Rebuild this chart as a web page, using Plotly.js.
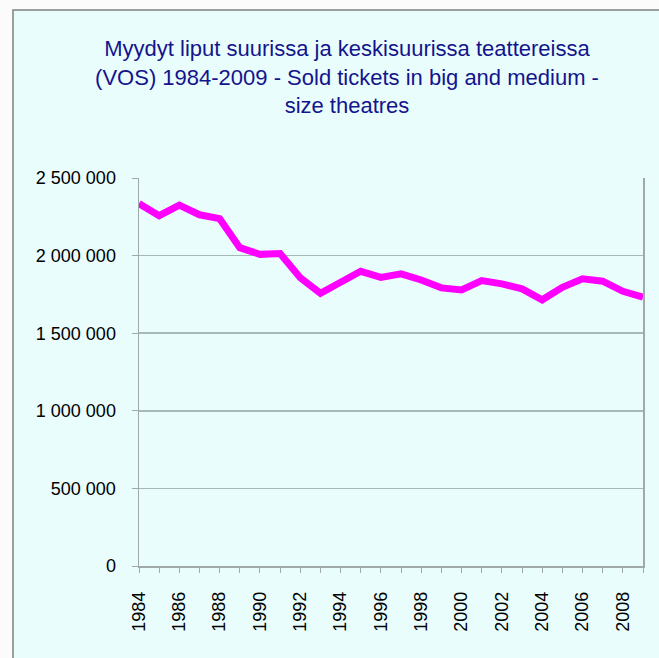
<!DOCTYPE html>
<html>
<head>
<meta charset="utf-8">
<script src="https://cdn.plot.ly/plotly-3.0.1.min.js"></script>
<style>
  html, body { margin: 0; padding: 0; background: #fbfbfb; }
  #chart { width: 659px; height: 658px; }
</style>
</head>
<body>
<div id="chart"></div>
<script>
const years = [1984,1985,1986,1987,1988,1989,1990,1991,1992,1993,1994,1995,1996,1997,1998,1999,2000,2001,2002,2003,2004,2005,2006,2007,2008,2009];
const soldTickets = [2335000,2257000,2325000,2263000,2238000,2051000,2008000,2013000,1858000,1757000,1828000,1899000,1860000,1882000,1843000,1792000,1779000,1839000,1818000,1786000,1715000,1796000,1850000,1835000,1770000,1732000];
const yTickVals = [0,500000,1000000,1500000,2000000,2500000];
const yTickText = ['0','500 000','1 000 000','1 500 000','2 000 000','2 500 000'];
const xTickText = years.map(y => (y % 2 === 0 ? String(y) : ''));
const titleText = 'Myydyt liput suurissa ja keskisuurissa teattereissa<br>(VOS) 1984-2009 - Sold tickets in big and medium -<br>size theatres';

const trace = {
  x: years,
  y: soldTickets,
  type: 'scatter',
  mode: 'lines',
  line: { color: '#ff00ff', width: 7, shape: 'linear' },
  hoverinfo: 'x+y'
};

const layout = {
  width: 659,
  height: 658,
  margin: { l: 139, r: 16, t: 178, b: 92, pad: 0 },
  paper_bgcolor: '#fbfbfb',
  plot_bgcolor: 'rgba(0,0,0,0)',
  showlegend: false,
  font: { family: 'Liberation Sans, Arial, sans-serif', color: '#000000' },
  title: {
    text: titleText,
    font: { family: 'Liberation Sans, Arial, sans-serif', size: 22, color: '#14148c' },
    x: 347 / 659,
    xref: 'container',
    xanchor: 'center',
    y: 1 - 56 / 658,
    yref: 'container',
    yanchor: 'top'
  },
  xaxis: {
    range: [1984, 2009],
    tickmode: 'array',
    tickvals: years,
    ticktext: xTickText,
    tickangle: -90,
    ticks: 'outside',
    ticklen: 5,
    tickcolor: '#a0a8a8',
    tickfont: { size: 18, color: '#000000' },
    ticklabelstandoff: 12,
    showgrid: false,
    showline: true,
    linecolor: '#a0a8a8',
    linewidth: 1.5,
    zeroline: false,
    fixedrange: true
  },
  yaxis: {
    range: [0, 2500000],
    tickmode: 'array',
    tickvals: yTickVals,
    ticktext: yTickText,
    ticks: 'outside',
    ticklen: 6,
    tickcolor: '#a0a8a8',
    tickfont: { size: 18, color: '#000000' },
    ticklabelstandoff: 12,
    showgrid: true,
    gridcolor: '#a8b8b8',
    gridwidth: 1.5,
    showline: true,
    mirror: true,
    linecolor: '#a0a8a8',
    linewidth: 1.5,
    zeroline: false,
    fixedrange: true
  },
  shapes: [{
    type: 'rect',
    xref: 'paper', yref: 'paper',
    x0: (13 - 139) / 504, x1: (680 - 139) / 504,
    y0: (566 - 680) / 388, y1: (566 - 10) / 388,
    fillcolor: '#e9fdfd',
    line: { color: '#808080', width: 1.5 },
    layer: 'below'
  }]
};

Plotly.newPlot('chart', [trace], layout, { displayModeBar: false, staticPlot: true });
</script>
</body>
</html>
